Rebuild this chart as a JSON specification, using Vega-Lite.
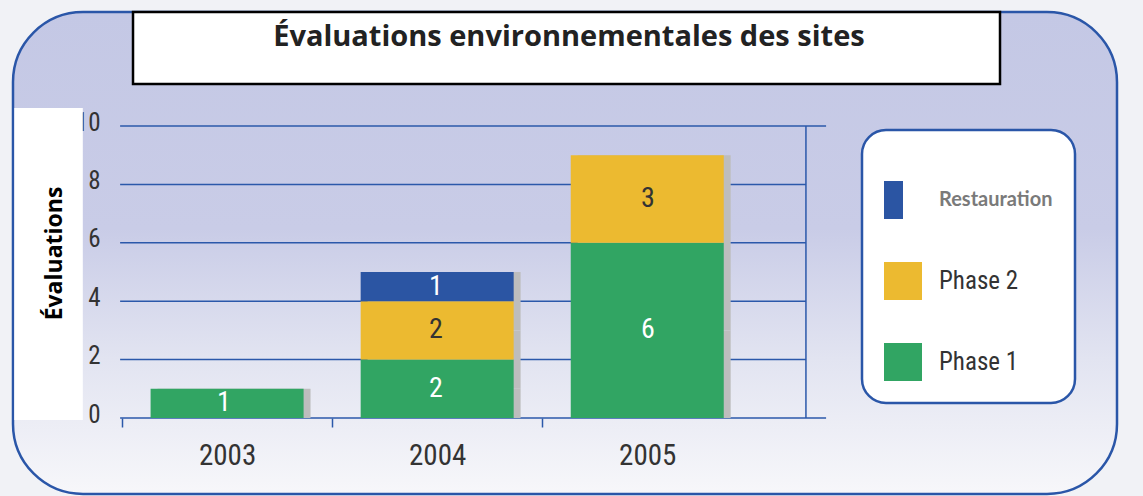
{
  "$schema": "https://vega.github.io/schema/vega-lite/v6.json",
  "width": 1104,
  "height": 482,
  "autosize": {"type": "none"},
  "padding": {"left": 13, "top": 12, "right": 26, "bottom": 2},
  "background": "#f1f2f6",
  "config": {
    "view": {
      "fill": {"gradient": "linear", "x1": 0, "y1": 0, "x2": 0, "y2": 1,
        "stops": [
          {"offset": 0, "color": "#c4c8e5"},
          {"offset": 0.45, "color": "#c9cce7"},
          {"offset": 0.72, "color": "#e2e4f1"},
          {"offset": 1, "color": "#f7f7fa"}
        ]},
      "stroke": "#2a56a8",
      "strokeWidth": 2.5,
      "cornerRadius": 70
    },
    "legend": {"strokeWidth": 2.5}
  },
  "datasets": {
    "evaluations": [
      {"year": 2003, "phase": "Phase 1", "n": 1},
      {"year": 2004, "phase": "Phase 1", "n": 2},
      {"year": 2004, "phase": "Phase 2", "n": 2},
      {"year": 2004, "phase": "Restauration", "n": 1},
      {"year": 2005, "phase": "Phase 1", "n": 6},
      {"year": 2005, "phase": "Phase 2", "n": 3}
    ],
    "grid": [{"value": 2}, {"value": 4}, {"value": 6}, {"value": 8}],
    "frame": [{"value": 0}, {"value": 10}],
    "single": [{}]
  },
  "layer": [
    {
      "data": {"name": "single"},
      "mark": {"type": "rect", "fill": "#ffffff"},
      "encoding": {
        "x": {"datum": 2002.011, "type": "quantitative", "axis": null, "scale": {"domain": [2002.00472, 2007.21226], "nice": false, "zero": false}},
        "x2": {"datum": 2002.334},
        "y": {"datum": 10.616, "type": "quantitative", "axis": null},
        "y2": {"datum": -0.07}
      }
    },
    {
      "data": {"name": "single"},
      "mark": {"type": "rect", "fill": "#ffffff", "stroke": "#000000", "strokeWidth": 2.5},
      "encoding": {
        "x": {"datum": 2002.5708, "type": "quantitative", "axis": null, "scale": {"domain": [2002.00472, 2007.21226], "nice": false, "zero": false}},
        "x2": {"datum": 2006.6604},
        "y": {"datum": 11.438, "type": "quantitative", "axis": null},
        "y2": {"datum": 13.904}
      }
    },
    {
      "data": {"name": "single"},
      "mark": {"type": "text", "font": "Open Sans", "fontWeight": "bold", "fontSize": 29, "fill": "#222222", "align": "center", "baseline": "alphabetic"},
      "encoding": {
        "x": {"datum": 2004.627, "type": "quantitative", "axis": null, "scale": {"domain": [2002.00472, 2007.21226], "nice": false, "zero": false}},
        "y": {"datum": 12.74, "type": "quantitative", "axis": null},
        "text": {"value": "Évaluations environnementales des sites"}
      }
    },
    {
      "data": {"name": "grid"},
      "mark": {"type": "rule", "stroke": "#2b58aa", "strokeWidth": 1.5},
      "encoding": {
        "x": {"datum": 2002.51, "type": "quantitative", "axis": null, "scale": {"domain": [2002.00472, 2007.21226], "nice": false, "zero": false}},
        "x2": {"datum": 2005.745},
        "y": {"field": "value", "type": "quantitative",
          "axis": {"orient": "left", "offset": -87, "values": [0, 2, 4, 6, 8, 10], "domain": false, "ticks": false, "tickSize": 0, "grid": false,
            "labelFont": "Roboto Condensed, DejaVu Sans Condensed, Liberation Sans Narrow, sans-serif", "labelFontSize": 25, "labelColor": "#333333",
            "labelPadding": 0, "labelOffset": -4, "labelBaseline": "middle", "labelOverlap": false, "labelFlush": false, "labelBound": false, "title": null, "zindex": 0}}
      }
    },
    {
      "data": {"name": "frame"},
      "mark": {"type": "rule", "stroke": "#2b58aa", "strokeWidth": 1.5},
      "encoding": {
        "x": {"datum": 2002.51, "type": "quantitative", "axis": null, "scale": {"domain": [2002.00472, 2007.21226], "nice": false, "zero": false}},
        "x2": {"datum": 2005.84},
        "y": {"field": "value", "type": "quantitative", "axis": null}
      }
    },
    {
      "data": {"name": "single"},
      "mark": {"type": "rule", "stroke": "#2b58aa", "strokeWidth": 1.5},
      "encoding": {
        "x": {"datum": 2005.745, "type": "quantitative", "axis": null, "scale": {"domain": [2002.00472, 2007.21226], "nice": false, "zero": false}},
        "y": {"datum": 0, "type": "quantitative", "axis": null},
        "y2": {"datum": 10}
      }
    },
    {
      "data": {"name": "evaluations"},
      "mark": {"type": "bar", "width": 153, "fill": "#bdbdbd"},
      "encoding": {
        "x": {"field": "year", "type": "quantitative", "axis": null, "scale": {"domain": [2001.97170, 2007.17924], "nice": false, "zero": false}},
        "y": {"field": "n", "type": "quantitative", "stack": "zero", "axis": null},
        "detail": {"field": "phase", "type": "nominal"}
      }
    },
    {
      "data": {"name": "evaluations"},
      "mark": {"type": "bar", "width": 153},
      "encoding": {
        "x": {"field": "year", "type": "quantitative",
          "scale": {"domain": [2002.00472, 2007.21226], "nice": false, "zero": false},
          "axis": {"orient": "bottom", "offset": -76, "values": [2002.5, 2003, 2003.5, 2004, 2004.5, 2005],
            "labelExpr": "datum.value % 1 === 0 ? format(datum.value, 'd') : ''",
            "domain": false, "grid": false, "ticks": true, "tickSize": 9, "tickColor": "#2b58aa", "tickWidth": 1.5,
            "tickOpacity": {"condition": {"test": "datum.value % 1 === 0", "value": 0}, "value": 1},
            "labelFont": "Roboto Condensed, DejaVu Sans Condensed, Liberation Sans Narrow, sans-serif", "labelFontSize": 29, "labelColor": "#333333",
            "labelPadding": 14, "labelOverlap": false, "labelFlush": false, "labelBound": false, "title": null, "zindex": 0}},
        "y": {"field": "n", "type": "quantitative", "stack": "zero",
          "scale": {"domain": [-2.6027, 13.9041], "nice": false, "zero": false},
          "axis": {"orient": "left", "offset": -48, "title": "Évaluations", "titleFont": "Open Sans", "titleFontSize": 23, "titleFontWeight": "bold",
            "titleColor": "#000000", "titleBaseline": "alphabetic", "titlePadding": 0, "labels": false, "ticks": false, "domain": false, "grid": false,
            "minExtent": 0, "maxExtent": 0, "zindex": 1}},
        "color": {"field": "phase", "type": "nominal",
          "scale": {"domain": ["Restauration", "Phase 2", "Phase 1"], "range": ["#2b55a3", "#ecba30", "#31a563"]},
          "legend": {"orient": "none", "legendX": 849, "legendY": 118,
            "title": " ", "titleFontSize": 8, "titlePadding": 21,
            "fillColor": "#ffffff", "strokeColor": "#2a56a8", "cornerRadius": 24, "padding": 22,
            "symbolType": {"expr": "datum.value === 'Restauration' ? 'M-1,-1H0V1H-1Z' : 'square'"},
            "symbolSize": 1444, "symbolStrokeWidth": 0, "symbolOpacity": 1,
            "rowPadding": 43, "labelOffset": 17, "labelLimit": 300,
            "labelFont": {"expr": "datum.value === 'Restauration' ? 'Lato' : 'Roboto Condensed, DejaVu Sans Condensed, Liberation Sans Narrow, sans-serif'"},
            "labelFontSize": {"expr": "datum.value === 'Restauration' ? 20 : 25"},
            "labelFontWeight": {"expr": "datum.value === 'Restauration' ? 'bold' : 'normal'"},
            "labelColor": {"expr": "datum.value === 'Restauration' ? '#7a7a7a' : '#333333'"}
          }},
        "order": {"field": "phase", "sort": "ascending"}
      }
    },
    {
      "data": {"name": "evaluations"},
      "transform": [
        {"stack": "n", "groupby": ["year"], "sort": [{"field": "phase", "order": "ascending"}], "as": ["y0", "y1"]},
        {"fold": ["y0", "y1"], "as": ["edge", "pos"]},
        {"aggregate": [{"op": "mean", "field": "pos", "as": "mid"}], "groupby": ["year", "phase", "n"]}
      ],
      "mark": {"type": "text", "font": "Roboto Condensed, DejaVu Sans Condensed, Liberation Sans Narrow, sans-serif", "fontSize": 28, "align": "center", "baseline": "middle"},
      "encoding": {
        "x": {"field": "year", "type": "quantitative", "axis": null, "scale": {"domain": [2002.00472, 2007.21226], "nice": false, "zero": false}},
        "y": {"field": "mid", "type": "quantitative", "axis": null},
        "text": {"field": "n", "type": "quantitative"},
        "color": {"condition": {"test": "datum.phase === 'Phase 2'", "value": "#333333"}, "value": "#ffffff"}
      }
    }
  ],
  "resolve": {"scale": {"x": "independent"}, "axis": {"x": "independent", "y": "independent"}}
}
